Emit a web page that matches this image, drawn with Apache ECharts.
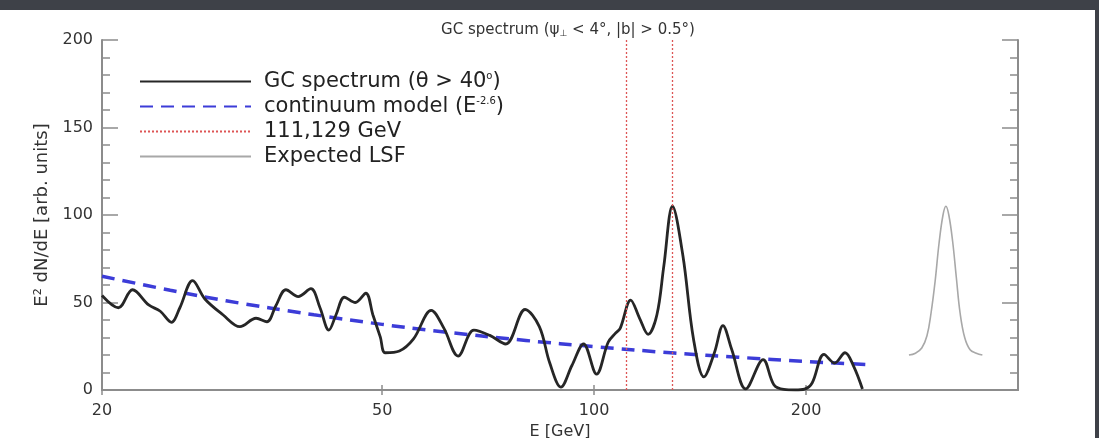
<!DOCTYPE html>
<html>
<head>
<meta charset="utf-8">
<script src="https://cdn.jsdelivr.net/npm/echarts@6/dist/echarts.min.js"></script>
<style>
html,body{margin:0;padding:0;background:#ffffff;}
#chart{width:1099px;height:438px;}
</style>
</head>
<body>
<div id="chart"></div>
<script>
// ---- data ----
const xTickValues = [20, 50, 100, 200];
const spectrumE = [20, 21.1, 22.1, 23.3, 24.2, 25.1, 25.8, 26.9, 28.0, 29.7, 31.4, 33.1, 34.3, 35.3, 36.5, 38.0, 39.6, 40.8, 42.0, 43.0, 44.2, 45.8, 47.4, 48.5, 49.7, 50.5, 52.9, 55.4, 58.7, 61.2, 64.1, 67.5, 71.1, 74.9, 79.8, 83.6, 86.5, 89.7, 93.0, 96.6, 100.8, 104.7, 107.1, 108.9, 112.7, 116.0, 119.3, 122.8, 125.6, 129.2, 133.7, 138.4, 143.2, 148.2, 152.4, 156.8, 164.2, 173.8, 180.0, 186.0, 193.0, 199.0, 204.0, 212.1, 219.6, 227.2, 233.8, 240.5];
const spectrumV = [54, 47, 57.3, 48.6, 45, 38.7, 47, 62.5, 52, 43, 36.2, 41, 39, 48, 57.3, 53.4, 57.9, 47, 34.2, 43, 53, 50, 55.3, 43, 30.2, 21.3, 22.3, 29.2, 45.5, 35.2, 19.4, 34.2, 31.2, 26.3, 46, 36.2, 15.4, 1.6, 14, 26.3, 9.1, 27.3, 32.2, 35.2, 51.4, 41.1, 31.8, 43, 70.8, 105, 76.7, 29.2, 7.5, 21.3, 36.8, 23.3, 0.6, 17.4, 3, 0.3, 0, 0.5, 4, 20.4, 15.4, 21.3, 13.4, 0.6];
const continuumE = [20, 25, 30, 40, 50, 60, 80, 100, 130, 160, 200, 245];
const continuumV = [65, 57, 51, 43, 37.5, 33.6, 28.3, 24.8, 21.1, 18.7, 16.3, 14.5];
const lineEnergies = [111, 129];
const lsfE = [280, 286, 292, 297, 301, 305, 309, 313, 316, 319, 323, 327, 331, 336, 342, 349, 356];
const lsfV = [20, 21, 24, 31, 44, 62, 84, 100, 105, 100, 85, 64, 44, 30, 23, 21, 20];

const names = {
  gc: 'GC spectrum (\u03b8 > 40\u00b0)',
  cont: 'continuum model (E-2.6)',
  lines: '111,129 GeV',
  lsf: 'Expected LSF'
};

function pairs(xs, ys) { return xs.map((x, i) => [x, ys[i]]); }

const FONT = '"DejaVu Sans", "Liberation Sans", Arial, sans-serif';
const chart = echarts.init(document.getElementById('chart'), null, {renderer: 'canvas'});

const axisLineStyle = {color: '#8c8c8c', width: 2};
const tickStyle = {color: '#8c8c8c', width: 1.5};

const option = {
  backgroundColor: '#ffffff',
  animation: false,
  textStyle: {fontFamily: FONT},
  graphic: [
    {type: 'rect', shape: {x: 0, y: 0, width: 1099, height: 10}, style: {fill: '#3e4148'}, z: 100},
    {type: 'rect', shape: {x: 1095, y: 0, width: 4, height: 438}, style: {fill: '#3e4148'}, z: 100}
  ],
  title: {
    text: '{a|GC spectrum (\u03c8}{sub|\u22a5}{a| < 4\u00b0, |b| > 0.5\u00b0)}',
    left: 563, top: 17, textAlign: 'center',
    textStyle: {
      fontWeight: 'normal',
      rich: {
        a: {fontSize: 15, color: '#333', fontFamily: FONT, fontWeight: 'normal'},
        sub: {fontSize: 9, color: '#333', fontFamily: FONT, fontWeight: 'normal', padding: [7, 0, 0, 0]}
      }
    }
  },
  grid: {left: 102, right: 81, top: 40, bottom: 48, containLabel: false, outerBoundsMode: 'none'},
  legend: {
    orient: 'vertical',
    left: 139, top: 71, padding: 0,
    itemWidth: 111, itemHeight: 14, itemGap: 4,
    selectedMode: false,
    itemStyle: {opacity: 0},
    data: [names.gc, names.cont, names.lines, names.lsf],
    formatter: function (name) {
      if (name === names.gc) return '{t|GC spectrum (\u03b8 > 40}{sup|o}{t|)}';
      if (name === names.cont) return '{t|continuum model (E}{sup|-2.6}{t|)}';
      return '{t|' + name + '}';
    },
    textStyle: {
      padding: [0, 0, 0, 8],
      rich: {
        t: {fontSize: 21, color: '#222', fontFamily: FONT, lineHeight: 21},
        sup: {fontSize: 10, color: '#222', fontFamily: FONT, verticalAlign: 'top', lineHeight: 21, padding: [0, 0, 10, 0]}
      }
    }
  },
  xAxis: [
    {
      type: 'log', logBase: 10, min: 20, max: 400,
      name: 'E [GeV]', nameLocation: 'middle', nameGap: 31,
      nameTextStyle: {fontSize: 16, color: '#333', fontFamily: FONT},
      axisLine: {show: true, lineStyle: axisLineStyle},
      axisTick: {show: true, inside: true, length: 5, customValues: xTickValues, lineStyle: tickStyle},
      minorTick: {show: false},
      splitLine: {show: false},
      axisLabel: {show: true, customValues: xTickValues, fontSize: 16, color: '#333', margin: 13, fontFamily: FONT,
        formatter: function (v) { return String(Math.round(v)); }}
    },
    {
      type: 'log', logBase: 10, min: 20, max: 400, position: 'top',
      axisLine: {show: true, lineStyle: axisLineStyle},
      axisTick: {show: true, inside: true, length: 5, customValues: xTickValues, lineStyle: tickStyle},
      splitLine: {show: false},
      axisLabel: {show: false}
    }
  ],
  yAxis: [
    {
      type: 'value', min: 0, max: 200, interval: 50,
      name: 'E\u00b2 dN/dE [arb. units]', nameLocation: 'middle', nameGap: 47,
      nameTextStyle: {fontSize: 18, color: '#333', fontFamily: FONT},
      axisLine: {show: true, lineStyle: axisLineStyle},
      axisTick: {show: true, inside: true, length: 16, lineStyle: tickStyle},
      minorTick: {show: true, splitNumber: 5, length: 8, lineStyle: tickStyle},
      splitLine: {show: false},
      axisLabel: {fontSize: 16, color: '#333', margin: 9, fontFamily: FONT}
    },
    {
      type: 'value', min: 0, max: 200, interval: 50, position: 'right',
      axisLine: {show: true, lineStyle: axisLineStyle},
      axisTick: {show: true, inside: true, length: 16, lineStyle: tickStyle},
      minorTick: {show: true, splitNumber: 5, length: 8, lineStyle: tickStyle},
      splitLine: {show: false},
      axisLabel: {show: false}
    }
  ],
  series: [
    {
      name: names.gc, type: 'line', xAxisIndex: 0, yAxisIndex: 0,
      data: pairs(spectrumE, spectrumV),
      smooth: 0.35, symbol: 'none', showSymbol: false,
      lineStyle: {color: '#262626', width: 2.8}, itemStyle: {color: '#262626'}, z: 4
    },
    {
      name: names.cont, type: 'line', xAxisIndex: 0, yAxisIndex: 0,
      data: pairs(continuumE, continuumV),
      smooth: 0.4, symbol: 'none', showSymbol: false,
      lineStyle: {color: '#3c3cd8', width: 3.5, type: [13, 8]}, itemStyle: {color: '#3c3cd8'}, z: 3
    },
    {
      name: names.lines, type: 'line', xAxisIndex: 0, yAxisIndex: 0,
      data: [], symbol: 'none',
      lineStyle: {color: '#dd5555', width: 1.5, type: [2, 2]}, itemStyle: {color: '#dd5555'},
      markLine: {
        silent: true, symbol: 'none', label: {show: false},
        lineStyle: {color: '#dd5555', width: 1.3, type: [2, 2]},
        data: lineEnergies.map(e => ({xAxis: e}))
      },
      z: 2
    },
    {
      name: names.lsf, type: 'line', xAxisIndex: 0, yAxisIndex: 0,
      data: pairs(lsfE, lsfV),
      smooth: 0.4, symbol: 'none', showSymbol: false,
      lineStyle: {color: '#a8a8a8', width: 1.6}, itemStyle: {color: '#a8a8a8'}, z: 2
    }
  ]
};
chart.setOption(option);
</script>
</body>
</html>
